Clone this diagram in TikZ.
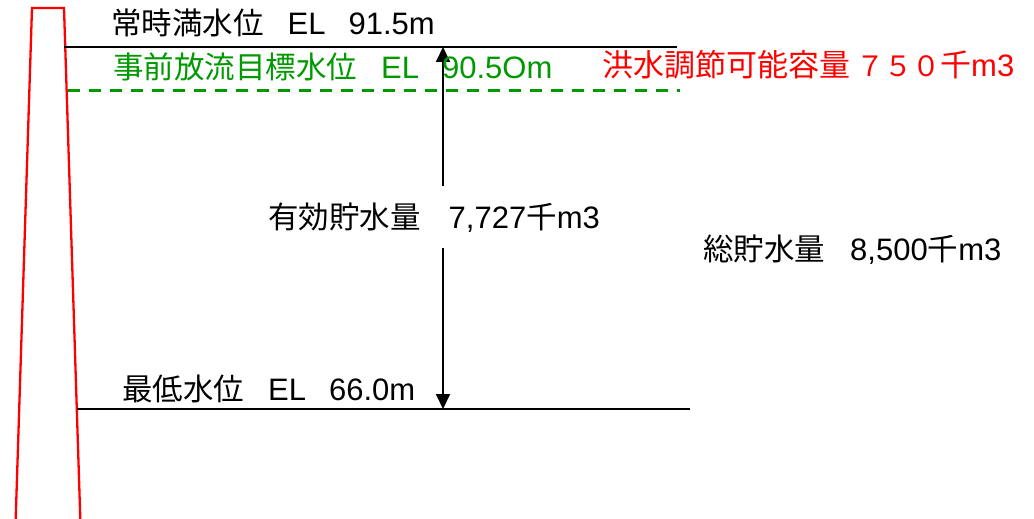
\documentclass[tikz,border=0pt]{standalone}
\usepackage{fontspec}
\setmainfont{Liberation Sans}
\newfontfamily\cjk{Noto Sans CJK JP}
\usetikzlibrary{arrows.meta}
\definecolor{lvgreen}{RGB}{0,153,0}
\definecolor{lvred}{RGB}{255,0,0}
\newcommand\J[1]{{\fontsize{30.5}{34}\cjk #1}}
\newcommand\JJ[1]{{\fontsize{31}{34}\cjk #1}}
\newcommand\JD[1]{{\fontsize{28}{34}\cjk #1}}
\begin{document}
\begin{tikzpicture}[x=1pt,y=-1pt,
  lbl/.style={anchor=base west, inner sep=0pt, font=\fontsize{31}{34}\selectfont},
  lvl/.style={line width=2.6pt},
  tgt/.style={line width=2.2pt, lvgreen, dash pattern=on 12pt off 9pt},
  dimarrow/.style={line width=2pt, {Triangle[length=15pt,width=14pt]}-{Triangle[length=15pt,width=14pt]}}
  ]
\useasboundingbox (0,0) rectangle (1034,519);
% dam body
\begin{scope}
  \clip (0,0) rectangle (1034,519);
  \draw[lvred, line width=2.3pt, line join=miter] (15.5,525) -- (32,8) -- (64,8) -- (80.5,525);
\end{scope}
% level lines
\coordinate (fullL) at (64,47);
\coordinate (fullR) at (677,47);
\coordinate (tgtL) at (68,90.5);
\coordinate (tgtR) at (680,90.5);
\coordinate (minL) at (77,409);
\coordinate (minR) at (690,409);
\draw[lvl] (fullL) -- (fullR);
\draw[tgt] (tgtL) -- (tgtR);
\draw[lvl] (minL) -- (minR);
% arrow
\coordinate (atop) at (443,47);
\coordinate (abot) at (443,409);
\draw[dimarrow] (atop) -- (abot);
% labels
\node[lbl] (full) at (111,35) {\J{常時満水位}\hspace{24pt}EL\hspace{23pt}91.5m};
\node[lbl, text=lvgreen] (target) at (113,78) {\J{事前放流目標水位}\hspace{24pt}EL\hspace{23pt}90.5Om};
\node[lbl, text=lvred] (flood) at (602,77) {\JJ{洪水調節可能容量}\hspace{6pt}\JD{７５０}\JJ{千}m3};
\node[lbl, fill=white, inner xsep=2pt, inner ysep=16pt] (eff) at (266,228) {\J{有効貯水量}\hspace{28pt}7,727\J{千}m3};
\node[lbl] (total) at (703,260) {\J{総貯水量}\hspace{25pt}8,500\J{千}m3};
\node[lbl] (low) at (122,400) {\J{最低水位}\hspace{24pt}EL\hspace{23pt}66.0m};
\end{tikzpicture}
\end{document}
